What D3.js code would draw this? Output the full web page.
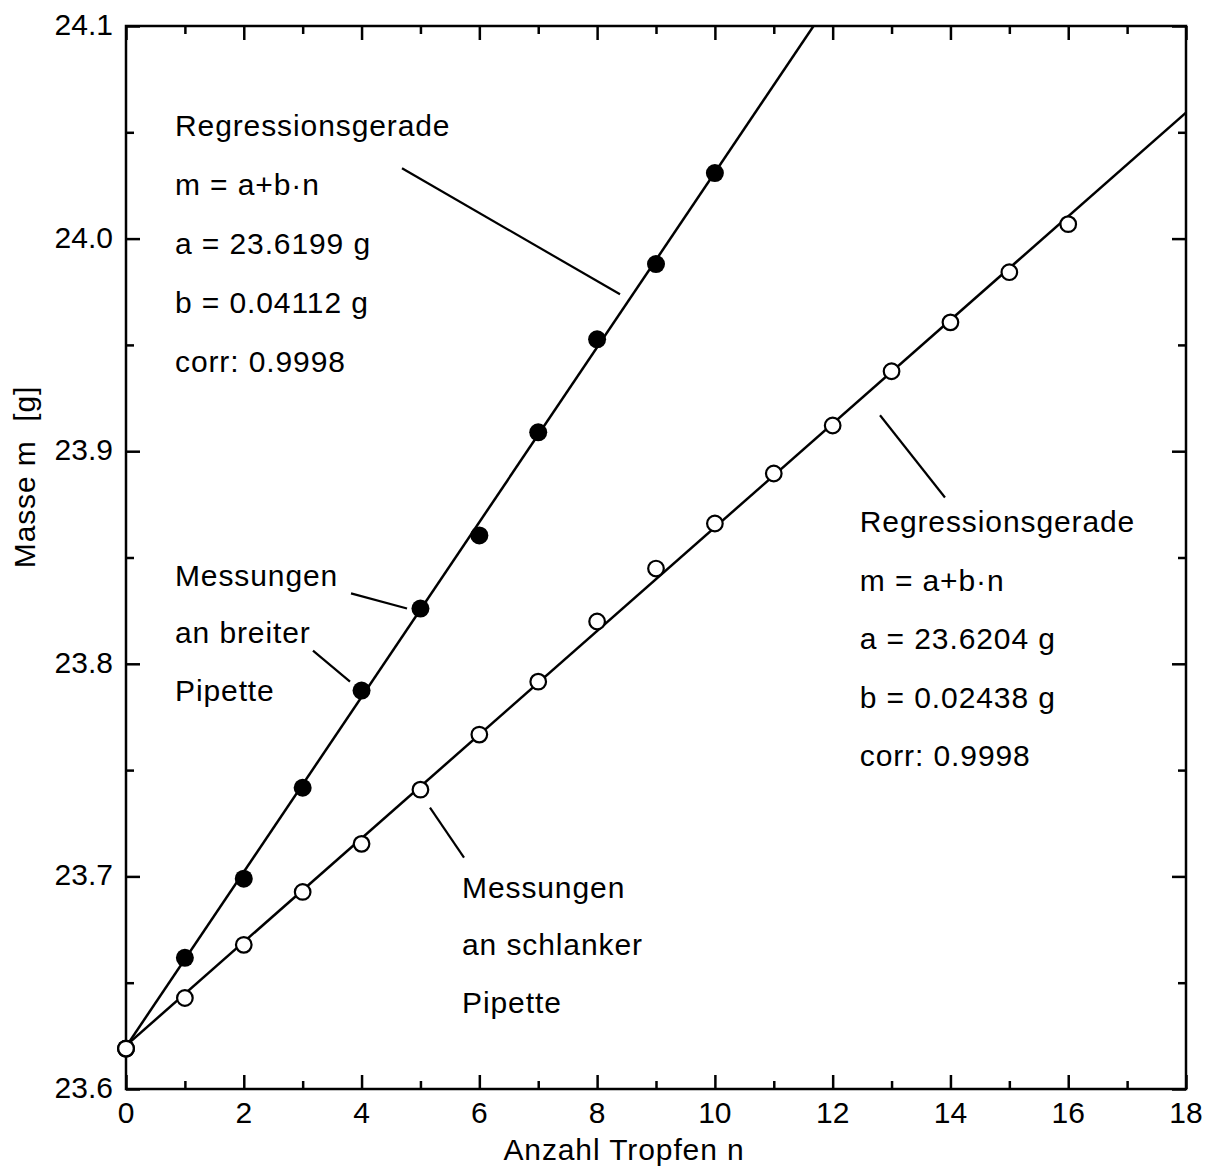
<!DOCTYPE html>
<html>
<head>
<meta charset="utf-8">
<script src="https://cdn.jsdelivr.net/npm/d3@7"></script>
<style>
	body { margin: 0; background: #fff; }
	text { font-family: "Liberation Sans", Arial, Helvetica, sans-serif; fill: #000; }
</style>
</head>
<body>
<script>
'use strict';

// Tropfenzahl n (Messungen)
const nWide = [0, 1, 2, 3, 4, 5, 6, 7, 8, 9, 10];
const nSlim = [0, 1, 2, 3, 4, 5, 6, 7, 8, 9, 10, 11, 12, 13, 14, 15, 16];

// gemessene Masse in g
const massWide = [23.619, 23.6617, 23.6989, 23.7417, 23.7874, 23.826, 23.8604, 23.9089, 23.9526, 23.988, 24.0308];
const massSlim = [23.619, 23.6428, 23.6678, 23.6927, 23.7153, 23.7408, 23.7667, 23.7916, 23.8199, 23.8448,
	23.866, 23.8895, 23.9121, 23.9376, 23.9606, 23.9842, 24.0068];

// Regressionsparameter (breit, schlank)
const fitA = [23.6199, 23.6204];
const fitB = [0.04112, 0.02438];

const xTicks = [0, 2, 4, 6, 8, 10, 12, 14, 16, 18];
const yTicks = [23.6, 23.7, 23.8, 23.9, 24.0, 24.1];

const textWideFit = ["Regressionsgerade", "m = a+b\u00b7n", "a = 23.6199 g", "b = 0.04112 g", "corr: 0.9998"];
const textSlimFit = ["Regressionsgerade", "m = a+b\u00b7n", "a = 23.6204 g", "b = 0.02438 g", "corr: 0.9998"];
const textWide = ["Messungen", "an breiter", "Pipette"];
const textSlim = ["Messungen", "an schlanker", "Pipette"];

const W = 1210, H = 1166;
const margin = { left: 126, top: 26, right: 24, bottom: 77 };
const pw = W - margin.left - margin.right;
const ph = H - margin.top - margin.bottom;

const svg = d3.select("body").append("svg")
	.attr("width", W)
	.attr("height", H);

const g = svg.append("g")
	.attr("transform", "translate(" + margin.left + "," + margin.top + ")");

const x = d3.scaleLinear().domain([0, 18]).range([0, pw]);
const y = d3.scaleLinear().domain([23.6, 24.1]).range([ph, 0]);

svg.append("defs").append("clipPath").attr("id", "plotClip")
	.append("rect").attr("width", pw).attr("height", ph);

// Achsen mit nach innen zeigenden Ticks
const minorX = d3.range(1, 18, 2);
const minorY = d3.range(23.65, 24.1, 0.1);

function tickAxis(axisFn, scale, values, size)
{
	return axisFn(scale).tickValues(values).tickSize(size).tickFormat("");
}

function styleAxis(sel)
{
	sel.select(".domain").remove();
	sel.selectAll("line").attr("stroke", "#000").attr("stroke-width", 2.5);
}

g.append("g").attr("transform", "translate(0," + ph + ")")
	.call(tickAxis(d3.axisTop, x, xTicks, 14)).call(styleAxis);
g.append("g").attr("transform", "translate(0," + ph + ")")
	.call(tickAxis(d3.axisTop, x, minorX, 8)).call(styleAxis);
g.append("g").call(tickAxis(d3.axisBottom, x, xTicks, 14)).call(styleAxis);
g.append("g").call(tickAxis(d3.axisBottom, x, minorX, 8)).call(styleAxis);
g.append("g").call(tickAxis(d3.axisRight, y, yTicks, 14)).call(styleAxis);
g.append("g").call(tickAxis(d3.axisRight, y, minorY, 8)).call(styleAxis);
g.append("g").attr("transform", "translate(" + pw + ",0)")
	.call(tickAxis(d3.axisLeft, y, yTicks, 14)).call(styleAxis);
g.append("g").attr("transform", "translate(" + pw + ",0)")
	.call(tickAxis(d3.axisLeft, y, minorY, 8)).call(styleAxis);

g.append("rect")
	.attr("width", pw).attr("height", ph)
	.attr("fill", "none").attr("stroke", "#000").attr("stroke-width", 2.5);

// Tick-Beschriftungen
g.selectAll(".xlab").data(xTicks).enter().append("text")
	.attr("x", d => x(d)).attr("y", ph + 34)
	.attr("text-anchor", "middle")
	.attr("font-size", 30)
	.text(d => d);

g.selectAll(".ylab").data(yTicks).enter().append("text")
	.attr("x", -13).attr("y", d => y(d)).attr("dy", "0.3em")
	.attr("text-anchor", "end")
	.attr("font-size", 30)
	.text(d => d3.format(".1f")(d));

svg.append("text")
	.attr("x", 624).attr("y", 1160)
	.attr("text-anchor", "middle")
	.attr("font-size", 30).attr("letter-spacing", 0.9)
	.text("Anzahl Tropfen n");

svg.append("text")
	.attr("transform", "translate(35,477) rotate(-90)")
	.attr("text-anchor", "middle")
	.attr("font-size", 30).attr("letter-spacing", 0.9)
	.attr("xml:space", "preserve")
	.text("Masse m  [g]");

// Regressionsgeraden
const plot = g.append("g").attr("clip-path", "url(#plotClip)");
const line = d3.line().x(d => x(d[0])).y(d => y(d[1]));
for (let i = 0; i < fitA.length; i++)
{
	plot.append("path")
		.datum([[0, fitA[i]], [18, fitA[i] + 18 * fitB[i]]])
		.attr("d", line)
		.attr("fill", "none").attr("stroke", "#000").attr("stroke-width", 2.5);
}

// Messpunkte
g.selectAll(".slim").data(nSlim).enter().append("circle")
	.attr("cx", d => x(d)).attr("cy", (d, i) => y(massSlim[i])).attr("r", 7.8)
	.attr("fill", "#fff").attr("stroke", "#000").attr("stroke-width", 2.2);

g.selectAll(".wide").data(nWide).enter().append("circle")
	.attr("cx", d => x(d)).attr("cy", (d, i) => y(massWide[i])).attr("r", 9)
	.attr("fill", "#000");

// offener Punkt bei n=0 liegt oben
g.append("circle")
	.attr("cx", x(nSlim[0])).attr("cy", y(massSlim[0])).attr("r", 7.8)
	.attr("fill", "#fff").attr("stroke", "#000").attr("stroke-width", 2.2);

// Hinweislinien (in Datenkoordinaten)
const leaders = [
	[[4.687, 24.0331], [8.389, 23.9738]],
	[[12.804, 23.9169], [13.907, 23.8782]],
	[[3.821, 23.8331], [4.772, 23.826]],
	[[3.175, 23.8062], [3.804, 23.7916]],
	[[5.162, 23.7323], [5.74, 23.7088]]
];
g.selectAll(".leader").data(leaders).enter().append("path")
	.attr("d", line)
	.attr("fill", "none").attr("stroke", "#000").attr("stroke-width", 2.2);

function textBlock(lines, n, m, step)
{
	g.append("g").selectAll("text").data(lines).enter().append("text")
		.attr("x", x(n)).attr("y", (d, i) => y(m) + i * step)
		.attr("font-size", 30).attr("letter-spacing", 0.9)
		.text(d => d);
}

textBlock(textWideFit, 0.832, 24.0482, 59);
textBlock(textSlimFit, 12.46, 23.8618, 58.5);
textBlock(textWide, 0.832, 23.8368, 57.5);
textBlock(textSlim, 5.706, 23.69, 57.5);
</script>
</body>
</html>
